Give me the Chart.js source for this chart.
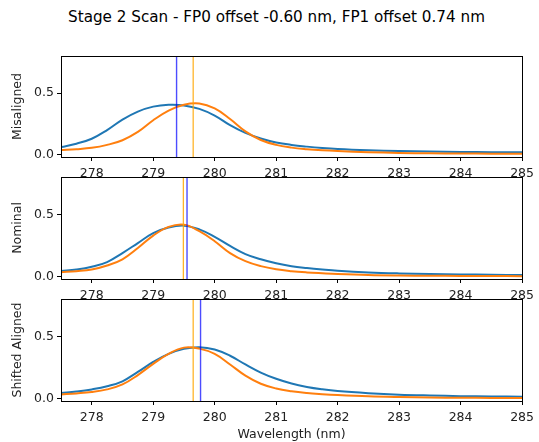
<!DOCTYPE html>
<html>
<head>
<meta charset="utf-8">
<script src="https://cdn.jsdelivr.net/npm/chart.js@4.4.1/dist/chart.umd.min.js"></script>
<style>
    html, body { margin: 0; padding: 0; background: #fff; overflow: hidden; }
    #figure { position: relative; width: 539px; height: 442px; }
    #suptitle {
        position: absolute; left: 0; top: 8px; width: 553px;
        text-align: center; font: 15.2px 'DejaVu Sans', sans-serif; color: #000;
    }
    .panel { position: absolute; left: 0; width: 539px; }
</style>
</head>
<body>
<div id="figure">
    <div id="suptitle">Stage 2 Scan - FP0 offset -0.60 nm, FP1 offset 0.74 nm</div>
    <div class="panel" style="top:50px;height:130px"><canvas id="misalignedChart" width="539" height="130"></canvas></div>
    <div class="panel" style="top:171px;height:131px"><canvas id="nominalChart" width="539" height="131"></canvas></div>
    <div class="panel" style="top:293px;height:149px"><canvas id="shiftedChart" width="539" height="149"></canvas></div>
</div>
<script>
const wavelengths = [277.5, 277.75, 278, 278.25, 278.5, 278.75, 279, 279.25, 279.5, 279.75,
    280, 280.25, 280.5, 280.75, 281, 281.25, 281.5, 281.75, 282, 282.5, 283, 283.5, 284, 284.5, 285];

const misalignedFp0 = [0.062, 0.09, 0.13, 0.2, 0.285, 0.35, 0.39, 0.405, 0.40, 0.372,
    0.318, 0.24, 0.177, 0.132, 0.1, 0.08, 0.066, 0.055, 0.047, 0.037, 0.03, 0.026, 0.023, 0.021, 0.02];
const misalignedFp1 = [0.038, 0.045, 0.056, 0.08, 0.118, 0.185, 0.28, 0.358, 0.405, 0.415,
    0.375, 0.29, 0.19, 0.12, 0.08, 0.058, 0.045, 0.036, 0.03, 0.021, 0.015, 0.012, 0.01, 0.009, 0.008];

const nominalFp0 = [0.046, 0.058, 0.08, 0.118, 0.19, 0.27, 0.35, 0.395, 0.41, 0.38,
    0.32, 0.247, 0.182, 0.14, 0.108, 0.085, 0.07, 0.058, 0.048, 0.035, 0.027, 0.022, 0.019, 0.016, 0.014];
const nominalFp1 = [0.037, 0.045, 0.058, 0.09, 0.14, 0.23, 0.33, 0.40, 0.418, 0.365,
    0.285, 0.19, 0.125, 0.085, 0.06, 0.045, 0.035, 0.028, 0.022, 0.014, 0.01, 0.008, 0.007, 0.006, 0.005];

const shiftedFp0 = [0.046, 0.058, 0.075, 0.10, 0.14, 0.215, 0.295, 0.36, 0.40, 0.413,
    0.395, 0.345, 0.275, 0.21, 0.16, 0.122, 0.095, 0.076, 0.062, 0.045, 0.033, 0.026, 0.021, 0.019, 0.017];
const shiftedFp1 = [0.035, 0.043, 0.054, 0.075, 0.115, 0.19, 0.28, 0.36, 0.41, 0.402,
    0.36, 0.275, 0.185, 0.12, 0.082, 0.06, 0.046, 0.037, 0.03, 0.02, 0.014, 0.01, 0.008, 0.007, 0.006];

// centre markers (axvline) for FP0 / FP1 in each panel
const misalignedCentres = [279.38, 279.65];
const nominalCentres = [279.55, 279.49];
const shiftedCentres = [279.77, 279.65];

const xTicks = [278, 279, 280, 281, 282, 283, 284, 285];
const yTicks = [0, 0.5];

const FONT = "'DejaVu Sans', sans-serif";

const boxPlugin = {
    id: 'box',
    afterDatasetsDraw(chart) {
        const a = chart.chartArea;
        const ctx = chart.ctx;
        ctx.save();
        ctx.strokeStyle = '#000';
        ctx.lineWidth = 1;
        ctx.strokeRect(Math.round(a.left) + 0.5, Math.round(a.top) + 0.5,
            Math.round(a.right - a.left), Math.round(a.bottom - a.top));
        ctx.restore();
    }
};

function curve(values, color) {
    return {
        data: wavelengths.map((x, i) => ({ x, y: values[i] })),
        borderColor: color,
        borderWidth: 2,
        pointRadius: 0,
        tension: 0.4,
        fill: false
    };
}

function vline(x, color, width) {
    return {
        data: [{ x, y: -1 }, { x, y: 2 }],
        borderColor: color,
        borderWidth: width,
        pointRadius: 0,
        order: 0
    };
}

function initPanel(id, label, fp0, fp1, centres, showXTitle) {
    const ctx = document.getElementById(id)?.getContext('2d');
    if (!ctx) return;

    const datasets = [
        vline(centres[0], 'rgba(0,0,255,0.7)', 1.4),
        vline(centres[1], 'rgba(255,165,0,0.9)', 1.2),
        Object.assign(curve(fp1, '#ff7f0e'), { order: 1 }),
        Object.assign(curve(fp0, '#1f77b4'), { order: 2 })
    ];

    new Chart(ctx, {
        type: 'line',
        data: { datasets },
        options: {
            responsive: false,
            animation: false,
            events: [],
            layout: { padding: { left: 0, right: 12, top: 6, bottom: 0 } },
            plugins: { legend: { display: false }, tooltip: { enabled: false } },
            scales: {
                x: {
                    type: 'linear',
                    min: 277.5,
                    max: 285,
                    afterBuildTicks: s => { s.ticks = xTicks.map(value => ({ value })); },
                    afterFit: s => { s.height = showXTitle ? 41 : 23; },
                    grid: { display: true, drawOnChartArea: false, drawTicks: true, tickLength: 4, color: '#000' },
                    border: { display: false },
                    ticks: { color: '#222', padding: 5, maxRotation: 0, font: { family: FONT, size: 12.5 } },
                    title: {
                        display: showXTitle,
                        text: 'Wavelength (nm)',
                        color: '#222',
                        padding: { top: 0, bottom: 0 },
                        font: { family: FONT, size: 12.5 }
                    }
                },
                y: {
                    min: -0.018,
                    max: 0.8,
                    afterBuildTicks: s => { s.ticks = yTicks.map(value => ({ value })); },
                    afterFit: s => { s.width = 61; s.paddingTop = 0; s.paddingBottom = 0; },
                    grid: { display: true, drawOnChartArea: false, drawTicks: true, tickLength: 4, color: '#000' },
                    border: { display: false },
                    ticks: {
                        color: '#222',
                        padding: 3,
                        font: { family: FONT, size: 12.5 },
                        callback: v => v.toFixed(1)
                    },
                    title: {
                        display: true,
                        text: label,
                        color: '#222',
                        padding: { top: 10, bottom: 0 },
                        font: { family: FONT, size: 12.5 }
                    }
                }
            }
        },
        plugins: [boxPlugin]
    });
}

initPanel('misalignedChart', 'Misaligned', misalignedFp0, misalignedFp1, misalignedCentres, false);
initPanel('nominalChart', 'Nominal', nominalFp0, nominalFp1, nominalCentres, false);
initPanel('shiftedChart', 'Shifted Aligned', shiftedFp0, shiftedFp1, shiftedCentres, true);
</script>
</body>
</html>
